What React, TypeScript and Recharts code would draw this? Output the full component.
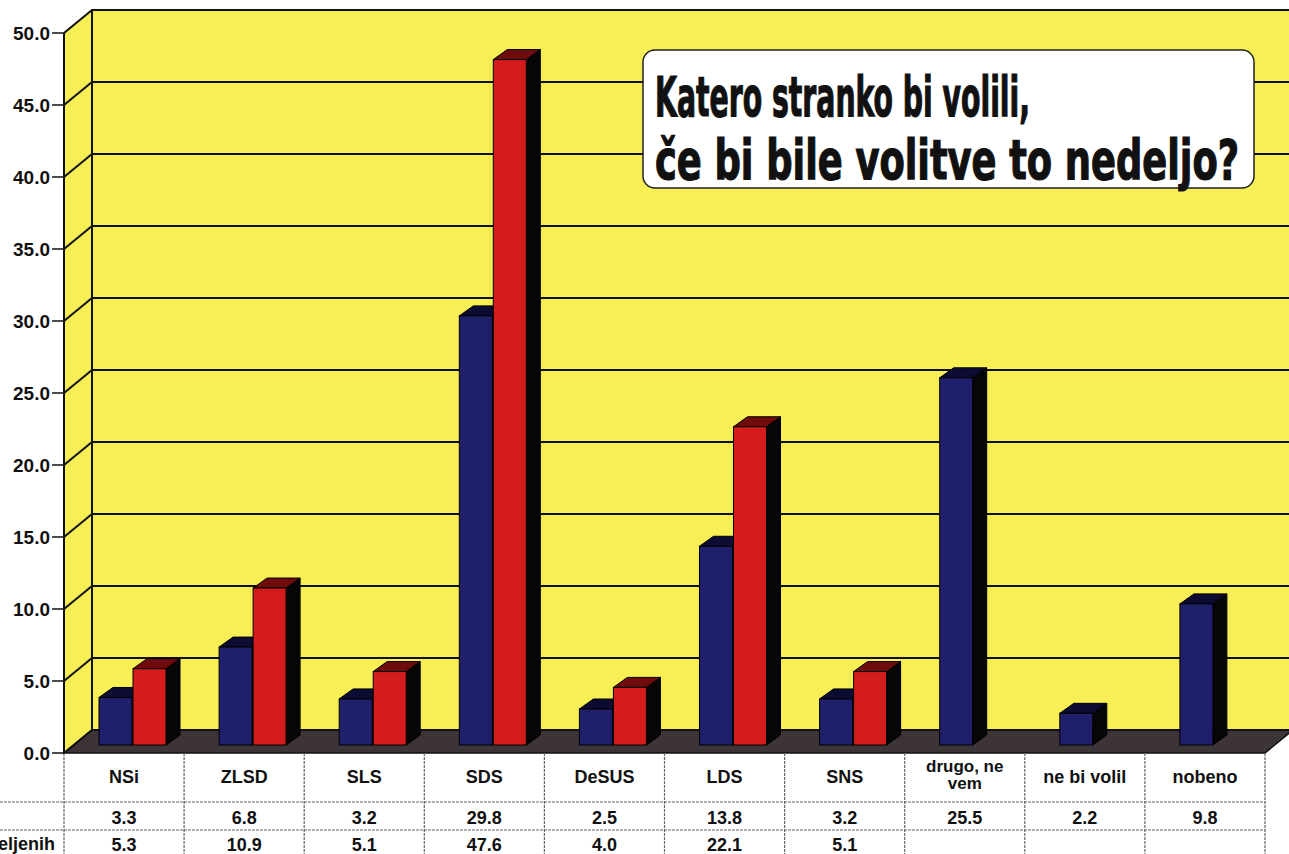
import { BarChart, Bar, XAxis, YAxis, CartesianGrid, ReferenceArea } from "recharts";

// podatki z grafa (v %)
const categories = ["NSi", "ZLSD", "SLS", "SDS", "DeSUS", "LDS", "SNS", "drugo, ne vem", "ne bi volil", "nobeno"];
const allRespondents = [3.3, 6.8, 3.2, 29.8, 2.5, 13.8, 3.2, 25.5, 2.2, 9.8];
const decidedOnly: (number | null)[] = [5.3, 10.9, 5.1, 47.6, 4.0, 22.1, 5.1, null, null, null];
const yTicks = [0, 5, 10, 15, 20, 25, 30, 35, 40, 45, 50];
const rowLabels = ["", "opredeljenih"];

const data = categories.map((name, i) => ({
  name,
  vsi: allRespondents[i],
  opredeljeni: decidedOnly[i],
}));

const W = 1289;
const H = 854;
const DEPTH_X = 28; // zadnja stena
const DEPTH_Y = 23;
const BAR_SHIFT_X = 8;
const BAR_SHIFT_Y = 8;
const YELLOW = "#f7ef55";
const FLOOR = "#3c3436";
const FONT = "'Liberation Sans', Arial, sans-serif";
const TITLE_FONT = "'DejaVu Sans Condensed', 'DejaVu Sans', sans-serif";

function wrap(text: string) {
  if (text.length <= 11) return [text];
  const idx = text.lastIndexOf(" ");
  return [text.slice(0, idx), text.slice(idx + 1)];
}

function Walls(props: any) {
  const { x, y, width, height } = props;
  const bottom = y + height;
  const n = categories.length;
  const cols = Array.from({ length: n + 1 }, (_, k) => x + (width * k) / n);
  return (
    <g>
      <polygon
        points={`${x},${y} ${x + DEPTH_X},${y - DEPTH_Y} ${x + DEPTH_X},${bottom - DEPTH_Y} ${x},${bottom}`}
        fill={YELLOW}
      />
      <rect x={x + DEPTH_X} y={y - DEPTH_Y} width={width + 10} height={height} fill={YELLOW} />
      <polygon
        points={`${x},${bottom} ${x + DEPTH_X},${bottom - DEPTH_Y} ${x + width + DEPTH_X},${bottom - DEPTH_Y} ${x + width},${bottom}`}
        fill={FLOOR}
        stroke="#111"
        strokeWidth={1.5}
      />
      <line x1={x + DEPTH_X} y1={y - DEPTH_Y} x2={x + DEPTH_X} y2={bottom - DEPTH_Y} stroke="#111" strokeWidth={2} />
      {/* tabela pod grafom */}
      <line x1={0} y1={bottom + 49} x2={x + width} y2={bottom + 49} stroke="#666" strokeWidth={1.2} strokeDasharray="3 1" />
      <line x1={0} y1={bottom + 77} x2={x + width} y2={bottom + 77} stroke="#666" strokeWidth={1.2} strokeDasharray="3 1" />
      {cols.map((cx, k) => (
        <line key={k} x1={cx} y1={bottom} x2={cx} y2={H} stroke="#666" strokeWidth={1.2} strokeDasharray="3 1" />
      ))}
      {rowLabels.map((label, r) => (
        <text
          key={r}
          x={x - 9}
          y={bottom + 70 + r * 27}
          textAnchor="end"
          fontFamily={FONT}
          fontWeight="bold"
          fontSize={18}
          fill="#111"
        >
          {label}
        </text>
      ))}
    </g>
  );
}

function GridLine(p: any) {
  const { x1, y1, x2 } = p;
  return (
    <polyline
      key={p.key}
      points={`${x1},${y1} ${x1 + DEPTH_X},${y1 - DEPTH_Y} ${x2 + DEPTH_X + 10},${y1 - DEPTH_Y}`}
      fill="none"
      stroke="#111"
      strokeWidth={2}
    />
  );
}

function Box3D(props: any) {
  const { x, y, width, height, front, top } = props;
  if (height == null || !(height > 0)) return null;
  const fx = x + BAR_SHIFT_X;
  const fy = y - BAR_SHIFT_Y;
  const dx = 14;
  const dy = 10;
  return (
    <g>
      <polygon
        points={`${fx + width},${fy} ${fx + width + dx},${fy - dy} ${fx + width + dx},${fy + height - dy} ${fx + width},${fy + height}`}
        fill="#060606"
        stroke="#000"
      />
      <polygon
        points={`${fx},${fy} ${fx + dx},${fy - dy} ${fx + width + dx},${fy - dy} ${fx + width},${fy}`}
        fill={top}
        stroke="#000"
      />
      <rect x={fx} y={fy} width={width} height={height} fill={front} stroke="#000" strokeWidth={1} />
    </g>
  );
}

function TableColumn(props: any) {
  const { x, y, payload, index } = props;
  const lines = wrap(String(payload.value));
  const a = allRespondents[index];
  const b = decidedOnly[index];
  const style = { fontFamily: FONT, fontWeight: "bold" as const, fontSize: 18, fill: "#111" };
  return (
    <g>
      {lines.map((l, i) => (
        <text
          key={i}
          x={x}
          y={lines.length === 1 ? y + 30 : y + 19 + i * 17}
          textAnchor="middle"
          {...style}
          fontSize={lines.length === 1 ? 18 : 17}
        >
          {l}
        </text>
      ))}
      <text x={x} y={y + 71} textAnchor="middle" {...style}>
        {a.toFixed(1)}
      </text>
      {b != null && (
        <text x={x} y={y + 98} textAnchor="middle" {...style}>
          {b.toFixed(1)}
        </text>
      )}
    </g>
  );
}

export default function App() {
  return (
    <div style={{ position: "absolute", left: 0, top: 0, width: W, height: H, background: "#fff", overflow: "hidden" }}>
      <BarChart
        width={W}
        height={H}
        data={data}
        margin={{ top: 33, right: 24, bottom: 0, left: 0 }}
        barSize={33}
        barGap={1}
      >
        <ReferenceArea y1={0} y2={50} shape={<Walls />} zIndex={-200} ifOverflow="visible" />
        <CartesianGrid vertical={false} horizontal={(p: any) => <GridLine {...p} />} />
        <XAxis
          dataKey="name"
          height={101}
          interval={0}
          axisLine={false}
          tickLine={false}
          tickSize={0}
          tickMargin={0}
          tick={<TableColumn />}
        />
        <YAxis
          width={64}
          domain={[0, 50]}
          ticks={yTicks}
          interval={0}
          tickFormatter={(v: number) => v.toFixed(1)}
          tickSize={12}
          tickMargin={2}
          axisLine={{ stroke: "#111", strokeWidth: 2 }}
          tickLine={{ stroke: "#111", strokeWidth: 1.5 }}
          tick={{ fill: "#111", fontFamily: FONT, fontWeight: "bold", fontSize: 19 }}
        />
        <Bar
          dataKey="vsi"
          isAnimationActive={false}
          shape={(p: any) => <Box3D {...p} front="#1f1f6c" top="#0c0c33" />}
        />
        <Bar
          dataKey="opredeljeni"
          isAnimationActive={false}
          shape={(p: any) => <Box3D {...p} front="#d41c1c" top="#6e0b0b" />}
        />
      </BarChart>
      <svg width={W} height={H} style={{ position: "absolute", left: 0, top: 0, pointerEvents: "none" }}>
        <rect x={643} y={50} width={611} height={138} rx={12} fill="#fff" stroke="#222" strokeWidth={1.5} />
        <g transform="translate(655,116) scale(1,1.55)">
          <text
            x={0}
            y={0}
            fontFamily={TITLE_FONT}
            fontWeight="bold"
            fontSize={36}
            textLength={375}
            lengthAdjust="spacingAndGlyphs"
            fill="#111"
            stroke="#111"
            strokeWidth={0.8}
          >
            Katero stranko bi volili,
          </text>
        </g>
        <g transform="translate(655,179) scale(1,1.55)">
          <text
            x={0}
            y={0}
            fontFamily={TITLE_FONT}
            fontWeight="bold"
            fontSize={36}
            textLength={584}
            lengthAdjust="spacingAndGlyphs"
            fill="#111"
            stroke="#111"
            strokeWidth={0.8}
          >
            če bi bile volitve to nedeljo?
          </text>
        </g>
      </svg>
    </div>
  );
}
